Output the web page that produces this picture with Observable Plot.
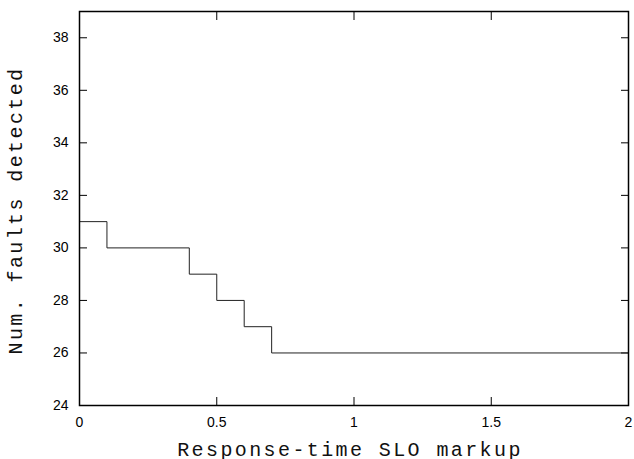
<!DOCTYPE html>
<html>
<head>
<meta charset="utf-8">
<script src="https://cdn.jsdelivr.net/npm/d3@7"></script>
<script src="https://cdn.jsdelivr.net/npm/@observablehq/plot@0.6"></script>
<style>
  html, body { margin: 0; padding: 0; background: #fff; }
  #chart { width: 634px; height: 459px; overflow: hidden; }
  /* wide typewriter spacing for the axis titles */
  #chart g[aria-label="text"] text { letter-spacing: 2.4px; }
</style>
</head>
<body>
<div id="chart"></div>
<script>
// Faults detected as the response-time SLO markup grows (step function)
const markups = [0, 0.1, 0.4, 0.5, 0.6, 0.7, 2];
const faults = [31, 30, 29, 28, 27, 26, 26];

const xTicks = [0, 0.5, 1, 1.5, 2];
const yTicks = [24, 26, 28, 30, 32, 34, 36, 38];

const xLabel = "Response-time SLO markup";
const yLabel = "Num. faults detected";

const rows = markups.map((m, i) => ({markup: m, faults: faults[i]}));

const mono = "'Liberation Mono', 'Courier New', monospace";

const chart = Plot.plot({
  width: 634,
  height: 459,
  marginLeft: 79,
  marginRight: 6,
  marginTop: 11,
  marginBottom: 54,
  x: {domain: [0, 2]},
  y: {domain: [24, 39]},
  style: {
    fontFamily: "'Liberation Sans', Arial, sans-serif",
    fontSize: "14px",
    color: "#000",
    background: "#fff"
  },
  marks: [
    // inward ticks mirrored on all four sides
    Plot.axisX(xTicks, {anchor: "bottom", tickSize: -8, fill: "none", label: null, stroke: "#000"}),
    Plot.axisX(xTicks, {anchor: "top", tickSize: -8, fill: "none", label: null, stroke: "#000"}),
    Plot.axisY(yTicks, {anchor: "left", tickSize: -8, fill: "none", label: null, stroke: "#000"}),
    Plot.axisY(yTicks, {anchor: "right", tickSize: -8, fill: "none", label: null, stroke: "#000"}),
    // tick labels
    Plot.axisX(xTicks, {anchor: "bottom", tickSize: 0, tickPadding: 12, label: null, tickFormat: d => String(d)}),
    Plot.axisY(yTicks, {anchor: "left", tickSize: 0, tickPadding: 11, label: null, tickFormat: d => String(d)}),
    Plot.line(rows, {x: "markup", y: "faults", curve: "step-after", stroke: "#222", strokeWidth: 1}),
    Plot.frame({stroke: "#000", strokeWidth: 1.5}),
    Plot.text([xLabel], {frameAnchor: "bottom", textAnchor: "middle", lineAnchor: "bottom", dy: 50, dx: -4, fontFamily: mono, fontSize: 20, fill: "#111"}),
    Plot.text([yLabel], {frameAnchor: "left", textAnchor: "middle", rotate: -90, lineAnchor: "bottom", dx: -58, dy: 2, fontFamily: mono, fontSize: 20, fill: "#111"})
  ]
});

document.getElementById("chart").append(chart);
</script>
</body>
</html>
